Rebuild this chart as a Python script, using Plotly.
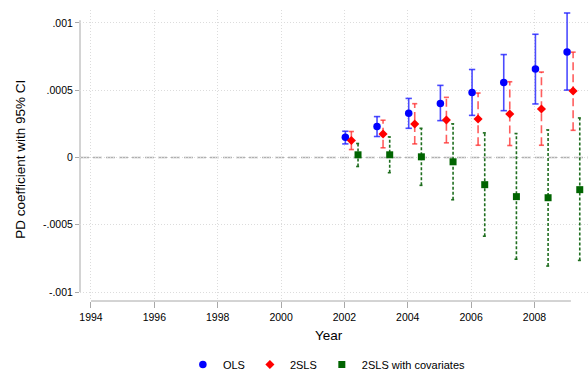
import plotly.graph_objects as go

years = [2002, 2003, 2004, 2005, 2006, 2007, 2008, 2009]
ols_coef = [0.000150, 0.000230, 0.000328, 0.000402, 0.000484, 0.000558, 0.000657, 0.000785]
ols_lo = [0.000101, 0.000156, 0.000217, 0.000274, 0.000313, 0.000348, 0.000398, 0.000501]
ols_hi = [0.000195, 0.000304, 0.000439, 0.000536, 0.000654, 0.000765, 0.000916, 0.001074]
tsls_coef = [0.000126, 0.000175, 0.000249, 0.000279, 0.000286, 0.000323, 0.000360, 0.000494]
tsls_lo = [0.000059, 0.000072, 0.000101, 0.000109, 0.000091, 0.000089, 0.000091, 0.000202]
tsls_hi = [0.000193, 0.000277, 0.000400, 0.000447, 0.000479, 0.000563, 0.000635, 0.000783]
cov_coef = [0.000020, 0.000020, 0.000005, -0.000032, -0.000202, -0.000291, -0.000299, -0.000239]
cov_lo = [-0.000067, -0.000113, -0.000207, -0.000314, -0.000585, -0.000756, -0.000807, -0.000765]
cov_hi = [0.000104, 0.000153, 0.000217, 0.000250, 0.000183, 0.000178, 0.000205, 0.000294]

x_ticks = [1994, 1996, 1998, 2000, 2002, 2004, 2006, 2008]
y_ticks = [-0.001, -0.0005, 0, 0.0005, 0.001]
y_ticktext = ["-.001", "-.0005", "0", ".0005", ".001"]

FONT = "Liberation Sans, Arial, sans-serif"


def ci_path(xs, lo, hi, cap):
    X, Y = [], []
    for x, l, h in zip(xs, lo, hi):
        X += [x, x, None, x - cap, x + cap, None, x - cap, x + cap, None]
        Y += [l, h, None, h, h, None, l, l, None]
    return X, Y


series = [
    dict(name="OLS", off=0.03, coef=ols_coef, lo=ols_lo, hi=ols_hi,
         mcolor="#0000ff", symbol="circle", size=7.5,
         lcolor="rgba(30,30,255,0.8)", dash="solid", cap=0.1),
    dict(name="2SLS", off=0.22, coef=tsls_coef, lo=tsls_lo, hi=tsls_hi,
         mcolor="#ff0000", symbol="diamond", size=7,
         lcolor="rgba(255,40,40,0.75)", dash="8px,4px", cap=0.08),
    dict(name="2SLS with covariates", off=0.43, coef=cov_coef, lo=cov_lo, hi=cov_hi,
         mcolor="#006400", symbol="square", size=7,
         lcolor="#1f6e1f", dash="3px,2px", cap=0.06),
]

fig = go.Figure()
for s in series:
    xs = [y + s["off"] for y in years]
    X, Y = ci_path(xs, s["lo"], s["hi"], s["cap"])
    fig.add_trace(go.Scatter(x=X, y=Y, mode="lines", showlegend=False, hoverinfo="skip",
                             line=dict(color=s["lcolor"], width=1.6, dash=s["dash"])))
for s in series:
    xs = [y + s["off"] for y in years]
    fig.add_trace(go.Scatter(x=xs, y=s["coef"], mode="markers", name=s["name"],
                             marker=dict(color=s["mcolor"], symbol=s["symbol"], size=s["size"],
                                         line=dict(width=0))))

grid = "#dcdcdc"
axis_gray = "#a8a8a8"
fig.update_layout(
    width=588, height=379,
    margin=dict(l=80, r=0, t=10, b=77),
    paper_bgcolor="white", plot_bgcolor="white",
    font=dict(family=FONT, color="black"),
    xaxis=dict(range=[1993.653, 2009.69], tickvals=x_ticks, ticks="outside", ticklen=6,
               tickcolor=axis_gray, showgrid=True, gridcolor=grid, griddash="1px,2px", gridwidth=1,
               zeroline=False, showline=False, tickfont=dict(size=10.5, family=FONT)),
    yaxis=dict(range=[-0.0010667, 0.0010963], tickvals=y_ticks, ticktext=y_ticktext,
               ticks="outside", ticklen=4, tickcolor=axis_gray, showgrid=True, gridcolor=grid,
               griddash="1px,2px", gridwidth=1, zeroline=False, showline=False,
               tickfont=dict(size=10.5, family=FONT)),
    legend=dict(orientation="h", x=0.486, xanchor="center", y=-0.219, yanchor="middle",
                font=dict(size=11, family=FONT), bgcolor="rgba(0,0,0,0)"),
    shapes=[
        dict(type="line", xref="paper", x0=0, x1=1, yref="y", y0=0, y1=0,
             line=dict(color="#b0b0b0", width=1.4, dash="9px,4px"), layer="between"),
        dict(type="line", xref="paper", x0=0, x1=0, yref="y", y0=-0.001, y1=0.00102,
             line=dict(color=axis_gray, width=1), layer="between"),
        dict(type="line", xref="x", x0=1994, x1=2009.15, yref="paper", y0=0, y1=0,
             line=dict(color=axis_gray, width=1), layer="between"),
    ],
    annotations=[
        dict(text="Year", xref="paper", yref="paper", x=0.49, y=-0.118, showarrow=False,
             xanchor="center", yanchor="middle", font=dict(size=13.5, family=FONT)),
        dict(text="PD coefficient with 95% CI", xref="paper", yref="paper", x=-0.116,
             y=0.486, showarrow=False, textangle=-90, xanchor="center", yanchor="middle",
             font=dict(size=13.5, family=FONT)),
    ],
)

fig.write_html("out.html")
